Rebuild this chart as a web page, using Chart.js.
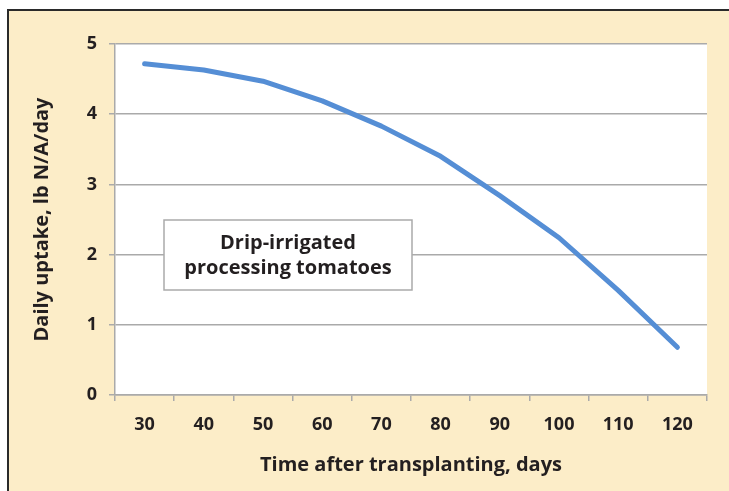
<!DOCTYPE html>
<html lang="en">
<head>
<meta charset="UTF-8">
<title>Daily N uptake</title>
<style>
    body { margin: 0; background: #fff; }
    canvas { display: block; }
</style>
<script src="https://cdn.jsdelivr.net/npm/chart.js"></script>
</head>
<body>

<canvas id="uptakeChart" width="729" height="491"></canvas>

<script>
const days = ["30", "40", "50", "60", "70", "80", "90", "100", "110", "120"];
const uptake = [4.72, 4.63, 4.47, 4.19, 3.83, 3.40, 2.84, 2.24, 1.49, 0.68];
const yTicks = [0, 1, 2, 3, 4, 5];
const boxLines = ["Drip-irrigated", "processing tomatoes"];

const FONT = "'Open Sans', sans-serif";
const INK = "#231f20";
const CREAM = "#fcedc8";
const GRID = "#aaaaaa";

// frame, white plot area, and the label box
const framePlugin = {
    id: "frame",
    beforeDraw(chart) {
        const ctx = chart.ctx;
        const a = chart.chartArea;
        ctx.save();
        ctx.fillStyle = "#fff";
        ctx.fillRect(0, 0, chart.width, chart.height);
        ctx.fillStyle = CREAM;
        ctx.fillRect(8, 10, chart.width - 8, chart.height - 10);
        ctx.strokeStyle = "#2a2a2a";
        ctx.lineWidth = 2;
        ctx.beginPath();
        ctx.moveTo(8, chart.height);
        ctx.lineTo(8, 10);
        ctx.lineTo(chart.width, 10);
        ctx.stroke();
        ctx.fillStyle = "#fff";
        ctx.fillRect(a.left, a.top, a.right - a.left, a.bottom - a.top);
        ctx.restore();
    },
    afterDatasetsDraw(chart) {
        const ctx = chart.ctx;
        ctx.save();
        ctx.fillStyle = "#fff";
        ctx.fillRect(164, 220, 248, 70);
        ctx.strokeStyle = GRID;
        ctx.lineWidth = 1.5;
        ctx.strokeRect(164, 220, 248, 70);
        ctx.fillStyle = INK;
        ctx.font = "bold 20px " + FONT;
        ctx.textAlign = "center";
        ctx.textBaseline = "middle";
        ctx.fillText(boxLines[0], 288, 243);
        ctx.fillText(boxLines[1], 288, 268);
        ctx.restore();
    }
};

new Chart(document.getElementById("uptakeChart"), {
    type: "line",
    data: {
        labels: days,
        datasets: [{
            data: uptake,
            borderColor: "#558ed5",
            borderWidth: 5,
            borderCapStyle: "round",
            borderJoinStyle: "round",
            pointRadius: 0,
            tension: 0
        }]
    },
    options: {
        responsive: false,
        animation: false,
        events: [],
        layout: { padding: { left: 0, top: 44, right: 22, bottom: 0 } },
        plugins: {
            legend: { display: false },
            tooltip: { enabled: false }
        },
        scales: {
            x: {
                offset: true,
                afterFit(scale) { scale.height = 96; },
                grid: {
                    offset: true,
                    drawOnChartArea: false,
                    drawTicks: true,
                    tickLength: 6,
                    color: GRID,
                    lineWidth: 1.5
                },
                border: { color: GRID, width: 1.5 },
                ticks: {
                    color: INK,
                    padding: 13,
                    maxRotation: 0,
                    font: { family: FONT, size: 18, weight: "bold" }
                },
                title: {
                    display: true,
                    text: "Time after transplanting, days",
                    color: INK,
                    padding: { top: 0, bottom: 14 },
                    font: { family: FONT, size: 20, weight: "bold" }
                }
            },
            y: {
                min: yTicks[0],
                max: yTicks[yTicks.length - 1],
                afterFit(scale) { scale.width = 115; },
                afterBuildTicks(scale) { scale.ticks = yTicks.map(v => ({ value: v })); },
                grid: {
                    color: GRID,
                    lineWidth: 1.5,
                    tickLength: 6
                },
                border: { color: GRID, width: 1.5 },
                ticks: {
                    color: INK,
                    padding: 12,
                    font: { family: FONT, size: 18, weight: "bold" }
                },
                title: {
                    display: true,
                    text: "Daily uptake, lb N/A/day",
                    color: INK,
                    padding: { top: 30, bottom: 0 },
                    font: { family: FONT, size: 20, weight: "bold" }
                }
            }
        }
    },
    plugins: [framePlugin]
});
</script>

</body>
</html>
